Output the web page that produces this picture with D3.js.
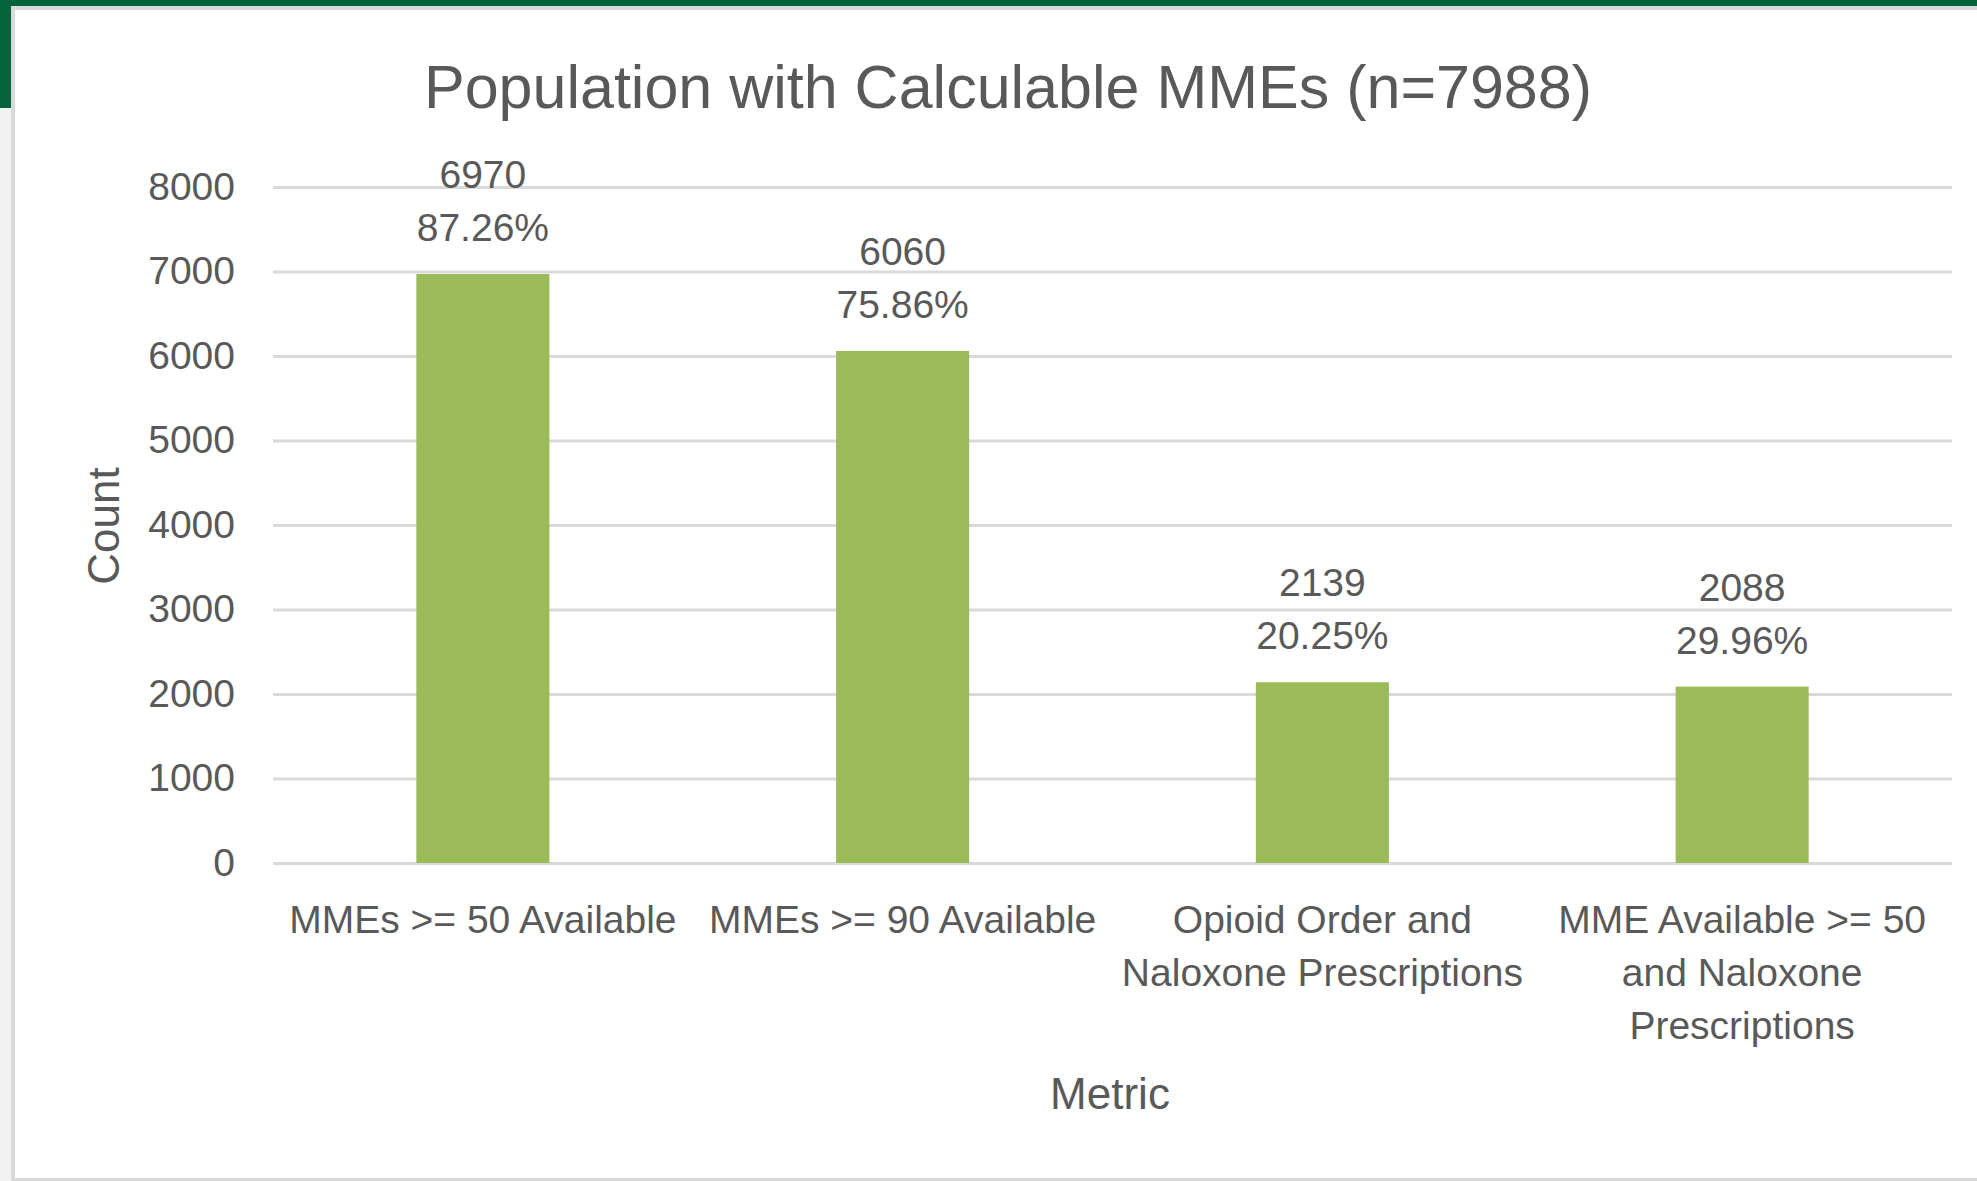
<!DOCTYPE html>
<html>
<head>
<meta charset="utf-8">
<script src="https://cdn.jsdelivr.net/npm/d3@7"></script>
<style>
  html, body { margin: 0; padding: 0; background: #ffffff; }
  svg { display: block; }
  text { font-family: "Liberation Sans", Arial, sans-serif; fill: #595959; }
</style>
</head>
<body>
<svg id="chart"></svg>
<script>
// Data
const categories = [
  "MMEs >= 50 Available",
  "MMEs >= 90 Available",
  "Opioid Order and Naloxone Prescriptions",
  "MME Available >= 50 and Naloxone Prescriptions"
];
const categoryLines = [
  ["MMEs >= 50 Available"],
  ["MMEs >= 90 Available"],
  ["Opioid Order and", "Naloxone Prescriptions"],
  ["MME Available >= 50", "and Naloxone", "Prescriptions"]
];
const counts = [6970, 6060, 2139, 2088];
const percents = ["87.26%", "75.86%", "20.25%", "29.96%"];
const yTicks = [0, 1000, 2000, 3000, 4000, 5000, 6000, 7000, 8000];

const W = 1977, H = 1181;
const margin = { top: 187, right: 25, bottom: 318, left: 273 };
const width = W - margin.left - margin.right;
const height = H - margin.top - margin.bottom;

const svg = d3.select("#chart").attr("width", W).attr("height", H);

// window frame around the chart (green strip, grey borders)
svg.append("rect").attr("x", 0).attr("y", 0).attr("width", W).attr("height", H).attr("fill", "#f2f2f2");
svg.append("rect").attr("x", 0).attr("y", 0).attr("width", W).attr("height", 6).attr("fill", "#03633a");
svg.append("rect").attr("x", 0).attr("y", 0).attr("width", 11).attr("height", 108).attr("fill", "#03633a");
svg.append("rect").attr("x", 11).attr("y", 6).attr("width", W - 11).attr("height", H - 6).attr("fill", "#d9d9d9");
svg.append("rect").attr("x", 15).attr("y", 10).attr("width", W - 15).attr("height", H - 13).attr("fill", "#ffffff");

const g = svg.append("g").attr("transform", `translate(${margin.left},${margin.top})`);

const x = d3.scaleBand()
  .domain(categories)
  .range([0, width])
  .paddingInner(0.683)
  .paddingOuter(0.683 / 2);

const y = d3.scaleLinear()
  .domain([0, 8000])
  .range([height, 0]);

// y axis with gridlines
const yAxis = g.append("g")
  .call(d3.axisLeft(y).tickValues(yTicks).tickFormat(d3.format("d"))
    .tickSizeInner(-width).tickSizeOuter(0).tickPadding(38));
yAxis.select(".domain").remove();
yAxis.selectAll(".tick line").attr("stroke", "#d9d9d9").attr("stroke-width", 3);
yAxis.selectAll(".tick text")
  .attr("font-size", 39)
  .attr("font-family", "Liberation Sans, Arial, sans-serif")
  .attr("fill", "#595959");

// bars
g.selectAll(".bar")
  .data(categories)
  .enter()
  .append("rect")
  .attr("class", "bar")
  .attr("x", d => x(d))
  .attr("y", (d, i) => y(counts[i]))
  .attr("width", x.bandwidth())
  .attr("height", (d, i) => height - y(counts[i]))
  .attr("fill", "#9bbb59");

// data labels: count and percent
const labels = g.selectAll(".bar-label")
  .data(categories)
  .enter()
  .append("text")
  .attr("class", "bar-label")
  .attr("text-anchor", "middle")
  .attr("font-size", 39)
  .attr("x", d => x(d) + x.bandwidth() / 2)
  .attr("y", (d, i) => y(counts[i]) - 86);
labels.append("tspan")
  .attr("x", d => x(d) + x.bandwidth() / 2)
  .text((d, i) => counts[i]);
labels.append("tspan")
  .attr("x", d => x(d) + x.bandwidth() / 2)
  .attr("dy", 53)
  .text((d, i) => percents[i]);

// x axis
const xAxis = g.append("g")
  .attr("transform", `translate(0,${height})`)
  .call(d3.axisBottom(x).tickSize(0).tickPadding(0));
xAxis.select(".domain").remove();
xAxis.selectAll(".tick text")
  .attr("font-size", 39)
  .attr("font-family", "Liberation Sans, Arial, sans-serif")
  .attr("fill", "#595959")
  .attr("dy", null)
  .attr("y", 70)
  .each(function(d, i) {
    const t = d3.select(this).text("");
    categoryLines[i].forEach((line, k) => {
      t.append("tspan").attr("x", 0).attr("dy", k === 0 ? 0 : 53).text(line);
    });
  });

// title
svg.append("text")
  .attr("x", 1008)
  .attr("y", 108)
  .attr("text-anchor", "middle")
  .attr("font-size", 61)
  .text("Population with Calculable MMEs (n=7988)");

// axis titles
svg.append("text")
  .attr("transform", "translate(119,526) rotate(-90)")
  .attr("text-anchor", "middle")
  .attr("font-size", 44)
  .text("Count");

svg.append("text")
  .attr("x", 1110)
  .attr("y", 1109)
  .attr("text-anchor", "middle")
  .attr("font-size", 44)
  .text("Metric");
</script>
</body>
</html>
